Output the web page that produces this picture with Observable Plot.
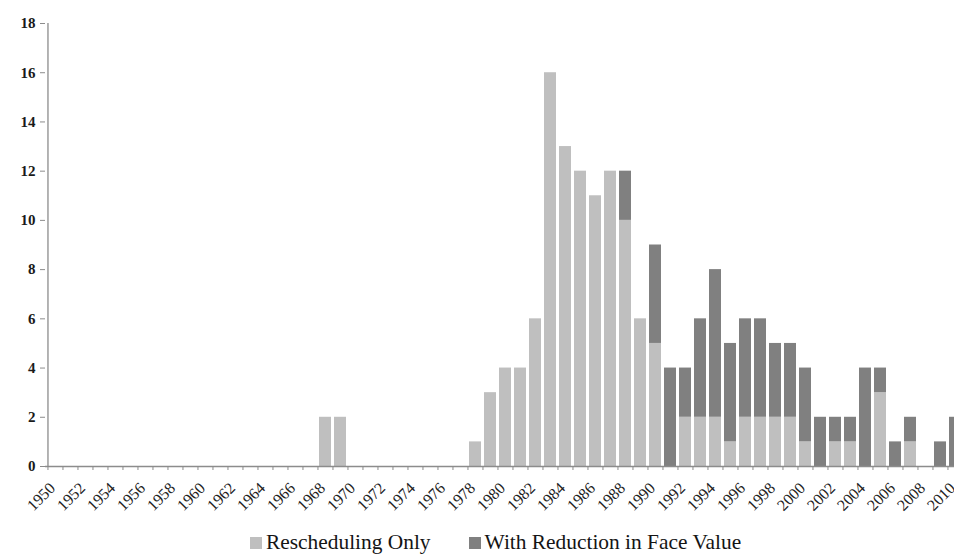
<!DOCTYPE html>
<html>
<head>
<meta charset="utf-8">
<script src="https://cdn.jsdelivr.net/npm/d3@7"></script>
<script src="https://cdn.jsdelivr.net/npm/@observablehq/plot@0.6"></script>
<style>
  html, body { margin: 0; padding: 0; background: #fff; width: 954px; height: 554px; overflow: hidden; }
  #chart { position: absolute; left: 0; top: 0; }
  #legend { position: absolute; top: 530px; left: 250px; font-family: "Liberation Serif", serif; font-size: 21.4px; line-height: 24px; color: #141414; display: flex; align-items: center; white-space: nowrap; }
  .sw { display: inline-block; width: 12px; height: 12px; margin-right: 4px; margin-top: 2px; }
  .item { display: flex; align-items: center; }
</style>
</head>
<body>
<div id="chart"></div>
<div id="legend">
  <span class="item"><span class="sw" style="background:#bfbfbf"></span>Rescheduling Only</span>
  <span class="item" style="margin-left:38px"><span class="sw" style="background:#808080"></span>With Reduction in Face Value</span>
</div>
<script>
const years = d3.range(1950, 2011);
const seriesNames = ["Rescheduling Only", "With Reduction in Face Value"];
// values per year, 1950..2010 (0 where no bar)
const reschedulingOnly = [
  0,0,0,0,0,0,0,0,0,0,   // 1950-1959
  0,0,0,0,0,0,0,0,2,2,   // 1960-1969
  0,0,0,0,0,0,0,0,1,3,   // 1970-1979
  4,4,6,16,13,12,11,12,10,6, // 1980-1989
  5,0,2,2,2,1,2,2,2,2,   // 1990-1999
  1,0,1,1,0,3,0,1,0,0,   // 2000-2009
  0                      // 2010
];
const withReduction = [
  0,0,0,0,0,0,0,0,0,0,
  0,0,0,0,0,0,0,0,0,0,
  0,0,0,0,0,0,0,0,0,0,
  0,0,0,0,0,0,0,0,2,0,
  4,4,2,4,6,4,4,4,3,3,
  3,2,1,1,4,1,1,1,0,1,
  2
];
const yTicks = [0,2,4,6,8,10,12,14,16,18];
const xLabelYears = years.filter(y => y % 2 === 0);

const data = [];
years.forEach((yr, i) => {
  data.push({year: yr, series: seriesNames[0], value: reschedulingOnly[i]});
  data.push({year: yr, series: seriesNames[1], value: withReduction[i]});
});

const step = 15.07;
const x0 = 45;
const serif = "Liberation Serif, Times New Roman, serif";

const plot = Plot.plot({
  width: 954,
  height: 530,
  marginLeft: 45,
  marginRight: 0,
  marginTop: 23,
  marginBottom: 64,
  style: {fontFamily: serif, background: "#fff", overflow: "visible"},
  x: {type: "band", domain: years, range: [x0, x0 + years.length * step], paddingInner: 0.2, paddingOuter: 0.1},
  y: {domain: [0, 18], range: [466, 23]},
  color: {domain: seriesNames, range: ["#bfbfbf", "#808080"]},
  marks: [
    Plot.barY(data, {x: "year", y: "value", fill: "series", order: seriesNames}),
    Plot.ruleY([0], {stroke: "#8c8c8c", strokeWidth: 1.3}),
    Plot.ruleX([1950], {x: d => d, dx: -step / 2, y1: 0, y2: 18, stroke: "#8c8c8c", strokeWidth: 1.3}),
    Plot.axisY({ticks: yTicks, tickSize: 5, tickPadding: 5, stroke: "#8c8c8c", fontSize: 15, fontWeight: "bold", fill: "#1a1a1a", label: null}),
    Plot.axisX({ticks: years, tickSize: 4, tickFormat: () => "", dx: -step / 2, stroke: "#8c8c8c", label: null}),
    Plot.axisX({ticks: xLabelYears, tickSize: 0, tickPadding: 15, tickRotate: -45, fontSize: 16, fill: "#222", dx: -3, dy: 4, tickFormat: d => String(d), label: null})
  ]
});
document.getElementById("chart").appendChild(plot);
</script>
</body>
</html>
